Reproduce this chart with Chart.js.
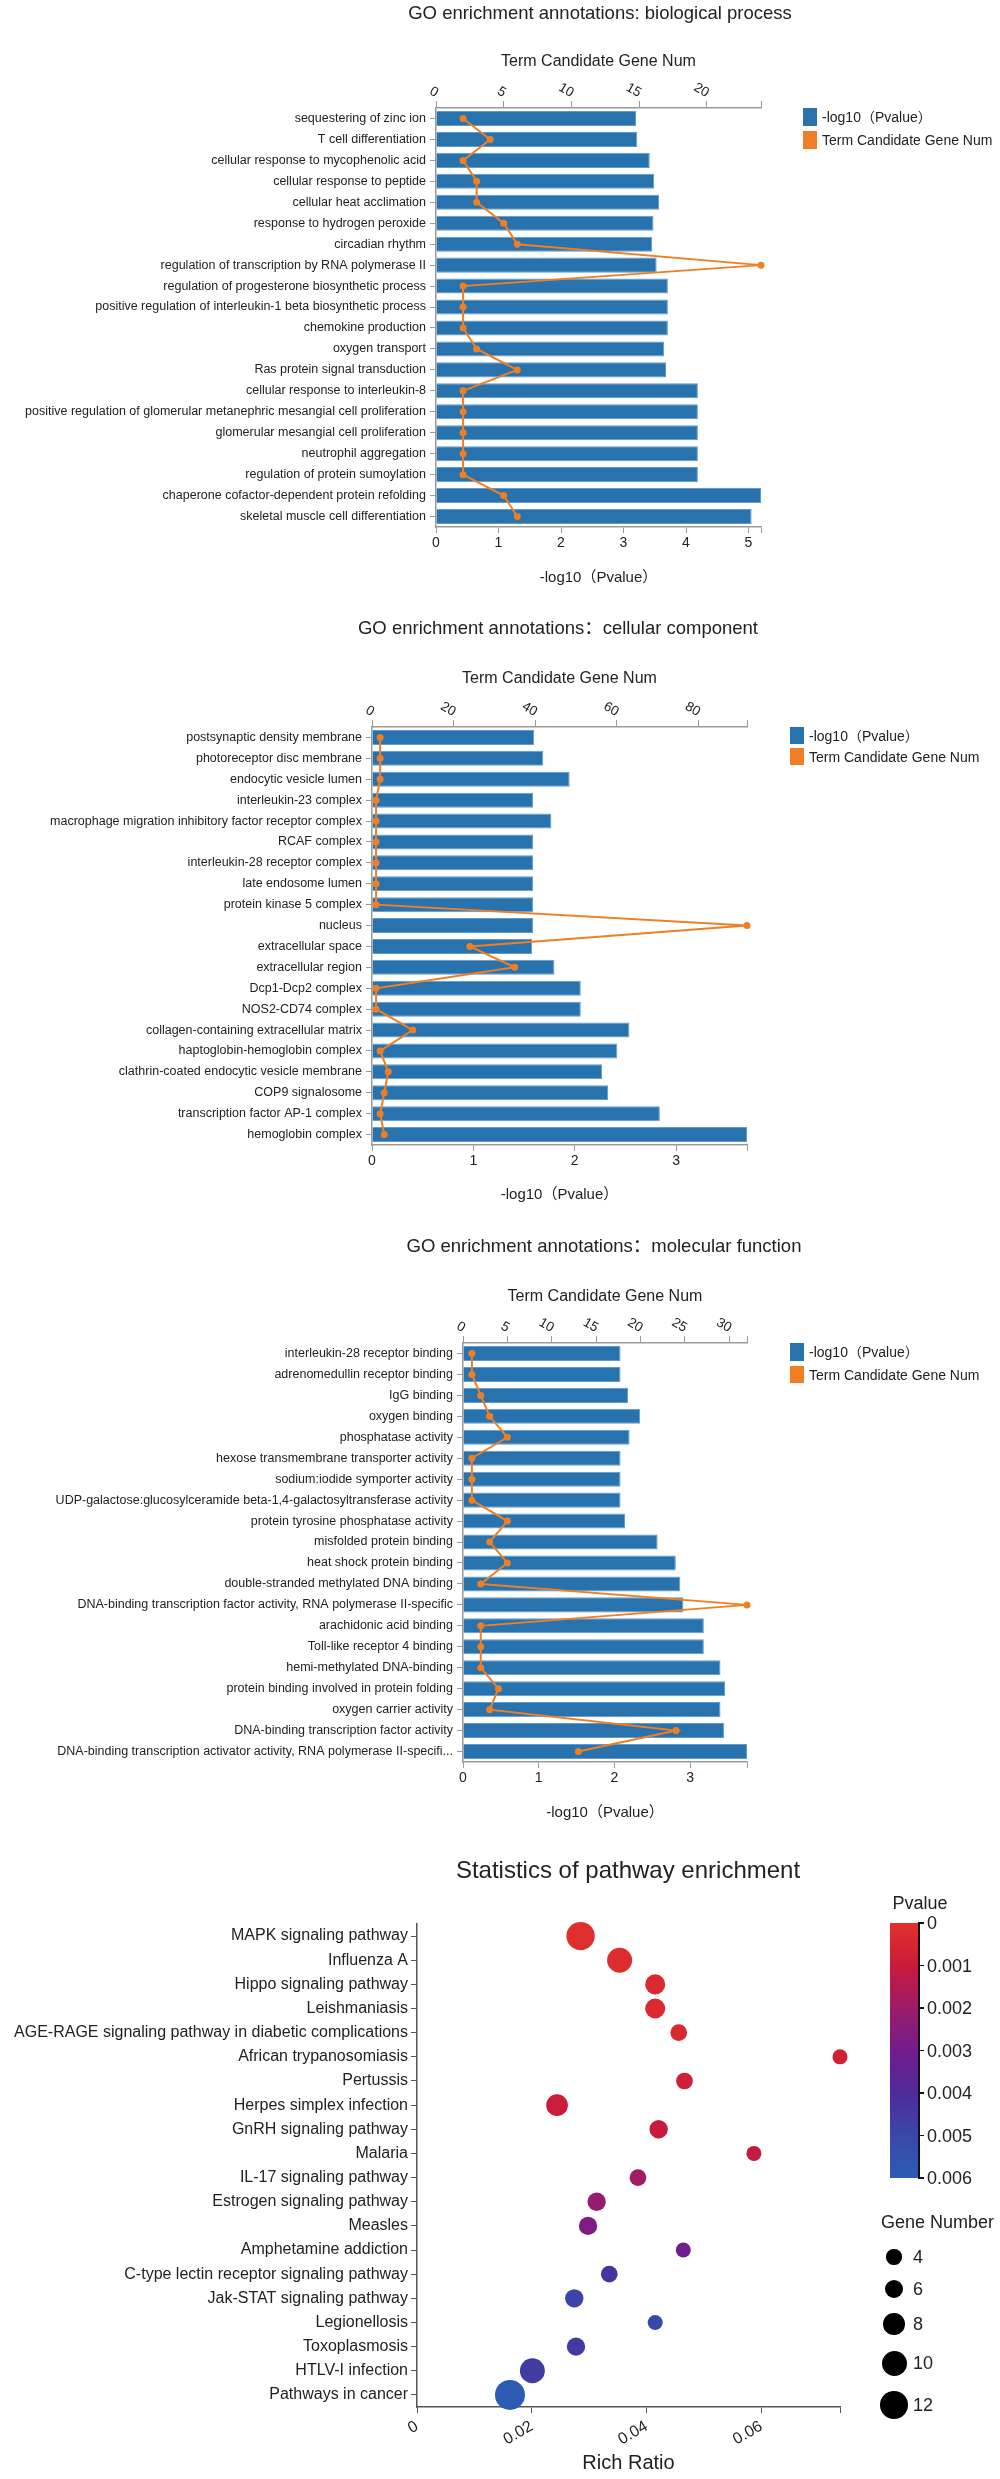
<!DOCTYPE html>
<html><head><meta charset="utf-8">
<script src="https://cdn.jsdelivr.net/npm/chart.js@4.4.1/dist/chart.umd.min.js"></script>
<style>
html,body{margin:0;padding:0;background:#fff;}
#page{position:relative;width:1000px;height:2479px;overflow:hidden;font-family:'Liberation Sans','Noto Sans CJK SC',sans-serif;color:#222;}
canvas{position:absolute;left:0;}
.t{position:absolute;white-space:nowrap;transform:translate(-50%,-50%);line-height:1;}
.l{position:absolute;white-space:nowrap;transform:translateY(-50%);line-height:1;}
.b{position:absolute;}
</style></head><body><div id="page">
<canvas id="c1" width="1000" height="600" style="top:0px"></canvas>
<canvas id="c2" width="1000" height="615" style="top:600px"></canvas>
<canvas id="c3" width="1000" height="615" style="top:1215px"></canvas>
<canvas id="c4" width="1000" height="649" style="top:1830px"></canvas>
<div class="t" style="left:600px;top:13px;font-size:18.5px">GO enrichment annotations: biological process</div>
<div class="t" style="left:558px;top:628px;font-size:18.5px">GO enrichment annotations：cellular component</div>
<div class="t" style="left:604px;top:1246px;font-size:18.5px">GO enrichment annotations：molecular function</div>
<div class="t" style="left:628px;top:1870px;font-size:24px">Statistics of pathway enrichment</div>
</div>
<script>
// ---------- data ----------
const bpTerms = ['sequestering of zinc ion','T cell differentiation','cellular response to mycophenolic acid','cellular response to peptide','cellular heat acclimation','response to hydrogen peroxide','circadian rhythm','regulation of transcription by RNA polymerase II','regulation of progesterone biosynthetic process','positive regulation of interleukin-1 beta biosynthetic process','chemokine production','oxygen transport','Ras protein signal transduction','cellular response to interleukin-8','positive regulation of glomerular metanephric mesangial cell proliferation','glomerular mesangial cell proliferation','neutrophil aggregation','regulation of protein sumoylation','chaperone cofactor-dependent protein refolding','skeletal muscle cell differentiation'];
const bpLogP = [3.20,3.22,3.42,3.49,3.57,3.48,3.46,3.53,3.71,3.71,3.71,3.65,3.68,4.19,4.19,4.19,4.19,4.19,5.20,5.05];
const bpGeneNum = [2,4,2,3,3,5,6,24,2,2,2,3,6,2,2,2,2,2,5,6];
const bpBottomTicks = [0,1,2,3,4,5];
const bpTopTicks = [0,5,10,15,20];

const ccTerms = ['postsynaptic density membrane','photoreceptor disc membrane','endocytic vesicle lumen','interleukin-23 complex','macrophage migration inhibitory factor receptor complex','RCAF complex','interleukin-28 receptor complex','late endosome lumen','protein kinase 5 complex','nucleus','extracellular space','extracellular region','Dcp1-Dcp2 complex','NOS2-CD74 complex','collagen-containing extracellular matrix','haptoglobin-hemoglobin complex','clathrin-coated endocytic vesicle membrane','COP9 signalosome','transcription factor AP-1 complex','hemoglobin complex'];
const ccLogP = [1.60,1.69,1.95,1.59,1.77,1.59,1.59,1.59,1.59,1.59,1.58,1.80,2.06,2.06,2.54,2.42,2.27,2.33,2.84,3.70];
const ccGeneNum = [2,2,2,1,1,1,1,1,1,92,24,35,1,1,10,2,4,3,2,3];
const ccBottomTicks = [0,1,2,3];
const ccTopTicks = [0,20,40,60,80];

const mfTerms = ['interleukin-28 receptor binding','adrenomedullin receptor binding','IgG binding','oxygen binding','phosphatase activity','hexose transmembrane transporter activity','sodium:iodide symporter activity','UDP-galactose:glucosylceramide beta-1,4-galactosyltransferase activity','protein tyrosine phosphatase activity','misfolded protein binding','heat shock protein binding','double-stranded methylated DNA binding','DNA-binding transcription factor activity, RNA polymerase II-specific','arachidonic acid binding','Toll-like receptor 4 binding','hemi-methylated DNA-binding','protein binding involved in protein folding','oxygen carrier activity','DNA-binding transcription factor activity','DNA-binding transcription activator activity, RNA polymerase II-specifi...'];
const mfLogP = [2.08,2.08,2.18,2.34,2.20,2.08,2.08,2.08,2.14,2.57,2.81,2.87,2.91,3.18,3.18,3.40,3.46,3.40,3.45,3.75];
const mfGeneNum = [1,1,2,3,5,1,1,1,5,3,5,2,32,2,2,2,4,3,24,13];
const mfBottomTicks = [0,1,2,3];
const mfTopTicks = [0,5,10,15,20,25,30];

const pathways = ['MAPK signaling pathway','Influenza A','Hippo signaling pathway','Leishmaniasis','AGE-RAGE signaling pathway in diabetic complications','African trypanosomiasis','Pertussis','Herpes simplex infection','GnRH signaling pathway','Malaria','IL-17 signaling pathway','Estrogen signaling pathway','Measles','Amphetamine addiction','C-type lectin receptor signaling pathway','Jak-STAT signaling pathway','Legionellosis','Toxoplasmosis','HTLV-I infection','Pathways in cancer'];
const richRatio = [0.0285,0.0353,0.0415,0.0415,0.0456,0.0737,0.0466,0.0244,0.0421,0.0587,0.0385,0.0313,0.0298,0.0464,0.0335,0.0274,0.0415,0.0277,0.0201,0.0162];
const geneNumber = [12,10,7,7,5,4,5,8,6,4,5,6,6,4,5,6,4,6,10,13];
const pValue = [0.0001,0.0002,0.0003,0.0003,0.0004,0.0007,0.0008,0.0009,0.0010,0.0011,0.0019,0.0022,0.0027,0.0031,0.0043,0.0049,0.0051,0.0046,0.0046,0.0059];
const richTicks = [0,0.02,0.04,0.06];
const pTicks = [0,0.001,0.002,0.003,0.004,0.005,0.006];
const geneLegend = [4,6,8,10,12];

// ---------- styles ----------
const FONT = "'Liberation Sans','Noto Sans CJK SC',sans-serif";
const BLUE = '#2872ad', ORANGE = '#f07f23', TXT = '#222', AX = '#9a9a9a';
const colorStops = ['#e2312b','#c81b3c','#9c1c68','#731c8c','#4f2b9a','#3a48a8','#2b5cb4'];
Chart.defaults.font.family = FONT;
Chart.defaults.color = TXT;

function hex(c){return [1,3,5].map(i=>parseInt(c.substr(i,2),16));}
function pColor(p){
  const t = Math.max(0,Math.min(1,p/pTicks[pTicks.length-1]))*(colorStops.length-1);
  const i = Math.min(Math.floor(t), colorStops.length-2), f = t-i;
  const a = hex(colorStops[i]), b = hex(colorStops[i+1]);
  return 'rgb('+a.map((v,k)=>Math.round(v+(b[k]-v)*f)).join(',')+')';
}
function radius(n){return 4.2+0.83*n;}

const topLabelAlign = {id:'topLabelAlign', beforeLayout(chart){const s=chart.scales.x2; if(s){s._getXAxisLabelAlignment=function(){return 'right';};}}};

function goChart(id, terms, logp, genes, botTicks, topTicks, g){
  const maxP = Math.max(...logp), maxG = Math.max(...genes);
  new Chart(document.getElementById(id), {
    type:'bar',
    data:{labels:terms, datasets:[
      {type:'line', label:'Term Candidate Gene Num', data:genes, xAxisID:'x2', yAxisID:'y', indexAxis:'y',
       borderColor:ORANGE, backgroundColor:ORANGE, borderWidth:2, pointRadius:3.5, pointBackgroundColor:ORANGE,
       pointBorderWidth:0, order:0, clip:false, tension:0},
      {type:'bar', label:'-log10（Pvalue）', data:logp, xAxisID:'x', yAxisID:'y', indexAxis:'y',
       backgroundColor:BLUE, borderColor:'#5d9bd0', borderWidth:1, categoryPercentage:1, barPercentage:0.72, order:1}
    ]},
    options:{
      indexAxis:'y', responsive:false, animation:false, events:[],
      layout:{padding:{top:g.boxTop, right:1000-g.right, bottom:g.h-g.boxBottom, left:0}},
      plugins:{legend:{display:false}, tooltip:{enabled:false}},
      scales:{
        y:{type:'category', offset:true,
           grid:{drawOnChartArea:false, offset:false, tickLength:6, color:AX},
           border:{color:AX, width:1.5},
           ticks:{font:{size:12.5}, color:TXT, padding:4, autoSkip:false},
           afterFit:s=>{s.width=g.left; s.paddingTop=0; s.paddingBottom=0;}},
        x:{type:'linear', position:'bottom', min:0, max:maxP,
           afterBuildTicks:s=>{s.ticks=botTicks.map(v=>({value:v})).concat([{value:maxP}]);},
           grid:{drawOnChartArea:false, tickLength:6, color:AX},
           border:{color:AX, width:1.5},
           ticks:{font:{size:14}, color:TXT, padding:2, autoSkip:false, minRotation:0, maxRotation:0,
                  callback:v=>botTicks.includes(v)?String(v):''},
           title:{display:true, text:'-log10（Pvalue）', font:{size:15}, color:TXT, padding:0},
           afterFit:s=>{s.height=g.boxBottom-g.bottom; s.paddingLeft=0; s.paddingRight=0;}},
        x2:{type:'linear', position:'top', min:0, max:maxG,
           afterBuildTicks:s=>{s.ticks=topTicks.map(v=>({value:v})).concat([{value:maxG}]);},
           grid:{drawOnChartArea:false, tickLength:7, color:AX},
           border:{color:AX, width:1.5},
           ticks:{font:{size:13.5}, color:TXT, padding:0, autoSkip:false, minRotation:-30, maxRotation:-30, labelOffset:-7,
                  callback:v=>topTicks.includes(v)?String(v):''},
           title:{display:true, text:'Term Candidate Gene Num', font:{size:16}, color:TXT, padding:0},
           afterFit:s=>{s.height=g.top-g.boxTop; s.paddingLeft=0; s.paddingRight=0;}}
      }
    },
    plugins:[topLabelAlign]
  });
}

goChart('c1', bpTerms, bpLogP, bpGeneNum, bpBottomTicks, bpTopTicks, {left:436,right:761,top:108,bottom:527,boxTop:52.4,boxBottom:587,h:600});
goChart('c2', ccTerms, ccLogP, ccGeneNum, ccBottomTicks, ccTopTicks, {left:372,right:747,top:127,bottom:545,boxTop:69.4,boxBottom:604,h:615});
goChart('c3', mfTerms, mfLogP, mfGeneNum, mfBottomTicks, mfTopTicks, {left:463,right:747,top:128,bottom:547,boxTop:72.4,boxBottom:607,h:615});

// ---------- bubble chart ----------
const maxR = Math.max(...richRatio);
new Chart(document.getElementById('c4'), {
  type:'bubble',
  data:{datasets:[{label:'Pathways',
    data:pathways.map((p,i)=>({x:richRatio[i], y:p, r:radius(geneNumber[i])})),
    backgroundColor:pValue.map(pColor), borderWidth:0, clip:false}]},
  options:{
    responsive:false, animation:false, events:[],
    layout:{padding:{top:94, right:160, bottom:4, left:0}},
    plugins:{legend:{display:false}, tooltip:{enabled:false}},
    scales:{
      y:{type:'category', labels:pathways, offset:true,
         grid:{drawOnChartArea:false, offset:false, tickLength:6, color:'#555'},
         border:{color:'#555', width:1.5},
         ticks:{font:{size:16}, color:TXT, padding:3, autoSkip:false},
         afterFit:s=>{s.width=417; s.paddingTop=0; s.paddingBottom=0;}},
      x:{type:'linear', position:'bottom', min:0, max:maxR,
         afterBuildTicks:s=>{s.ticks=richTicks.map(v=>({value:v})).concat([{value:maxR}]);},
         grid:{drawOnChartArea:false, tickLength:6, color:'#555'},
         border:{color:'#555', width:1.5},
         ticks:{font:{size:16}, color:TXT, padding:4, autoSkip:false, minRotation:30, maxRotation:30,
                callback:v=>richTicks.includes(v)?(v===0?'0':v.toFixed(2)):''},
         title:{display:true, text:'Rich Ratio', font:{size:20}, color:TXT, padding:0},
         afterFit:s=>{s.height=68; s.paddingLeft=0; s.paddingRight=0;}}
    }
  }
});

// ---------- HTML legends ----------
const page = document.getElementById('page');
function add(cls, style, text){const d=document.createElement('div'); d.className=cls; d.setAttribute('style',style); if(text!==undefined) d.textContent=text; page.appendChild(d); return d;}
[[803,108,18,822,117,131,18,140],[790,727,17,809,735.5,748,17,756.5],[790,1343,18,809,1352,1366,17,1374.5]].forEach(L=>{
  add('b',`left:${L[0]}px;top:${L[1]}px;width:14px;height:${L[2]}px;background:${BLUE}`);
  add('l',`left:${L[3]}px;top:${L[4]}px;font-size:14px`,'-log10（Pvalue）');
  add('b',`left:${L[0]}px;top:${L[5]}px;width:14px;height:${L[6]}px;background:${ORANGE}`);
  add('l',`left:${L[3]}px;top:${L[7]}px;font-size:14px`,'Term Candidate Gene Num');
});
// colour bar
const cbTop=1923, cbH=255, cbL=890, cbW=28;
add('t',`left:920px;top:1903px;font-size:18px`,'Pvalue');
add('b',`left:${cbL}px;top:${cbTop}px;width:${cbW}px;height:${cbH}px;background:linear-gradient(to bottom,${colorStops.join(',')})`);
add('b',`left:${cbL+cbW}px;top:${cbTop}px;width:1.5px;height:${cbH}px;background:#111`);
pTicks.forEach(p=>{
  const y = cbTop + p/pTicks[pTicks.length-1]*cbH;
  add('b',`left:${cbL+cbW}px;top:${y-0.75}px;width:6px;height:1.5px;background:#111`);
  add('l',`left:${cbL+cbW+9}px;top:${y}px;font-size:18px`, p===0?'0':p.toFixed(3));
});
// gene number legend
add('l',`left:881px;top:2222px;font-size:18px`,'Gene Number');
const glY=[2257,2289,2324,2363,2405];
geneLegend.forEach((n,i)=>{
  const r=radius(n);
  add('b',`left:${894-r}px;top:${glY[i]-r}px;width:${2*r}px;height:${2*r}px;border-radius:50%;background:#000`);
  add('l',`left:913px;top:${glY[i]}px;font-size:18px`,String(n));
});
</script>
</body></html>
